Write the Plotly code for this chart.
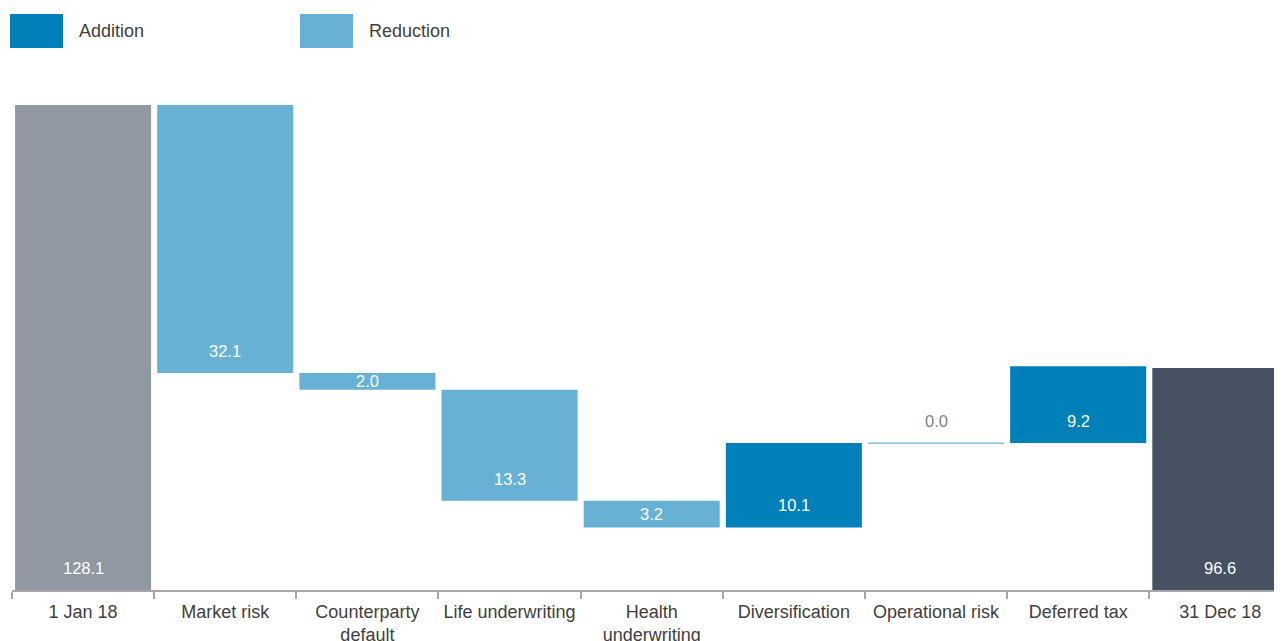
import plotly.graph_objects as go

# ---- data ----
categories = ["1 Jan 18", "Market risk", "Counterparty<br>default", "Life underwriting",
              "Health<br>underwriting", "Diversification", "Operational risk",
              "Deferred tax", "31 Dec 18"]
start_value = 128.1
changes = [-32.1, -2.0, -13.3, -3.2, 10.1, 0.0, 9.2]
end_value = 96.6
legend_labels = ["Addition", "Reduction"]

# ---- styles ----
C_ADD = "#0080B9"
C_RED = "#67B2D4"
C_START = "#9098A2"
C_END = "#465263"
TXT = "#404040"
FONT = "Liberation Sans, Arial, sans-serif"

# page body offsets the figure by ~8px; margins compensate
W, H = 1282, 641
M_L, M_R, M_T, M_B = 4, 0, 82, 59
Y_RANGE = [70, 129.9]
PX_PER_UNIT = (H - M_T - M_B) / (Y_RANGE[1] - Y_RANGE[0])

# ---- build bars ----
bases, heights, colors, labels = [], [], [], []
bases.append(0)
heights.append(start_value)
colors.append(C_START)
labels.append(start_value)
level = start_value
for ch in changes:
    new = level + ch
    bases.append(min(level, new))
    heights.append(abs(ch))
    colors.append(C_ADD if ch > 0 else C_RED)
    labels.append(abs(ch))
    level = new
bases.append(0)
heights.append(end_value)
colors.append(C_END)
labels.append(end_value)

fig = go.Figure()
fig.add_trace(go.Bar(
    x=categories, y=heights, base=bases,
    marker=dict(color=colors, line=dict(width=0)),
    showlegend=False, hoverinfo="skip",
))

annotations = []
shapes = []
for i, (b, h, lab) in enumerate(zip(bases, heights, labels)):
    bottom = max(b, Y_RANGE[0])
    hpx = (b + h - bottom) * PX_PER_UNIT
    if h == 0:
        shapes.append(dict(type="line", xref="x", yref="y",
                           x0=i - 0.478, x1=i + 0.478, y0=b, y1=b,
                           line=dict(color=C_RED, width=1.2)))
        annotations.append(dict(x=categories[i], y=b, xref="x", yref="y",
                                text=f"{lab:.1f}", showarrow=False, yshift=22,
                                font=dict(size=16.5, color="#7F7F7F", family=FONT)))
    else:
        annotations.append(dict(x=categories[i], y=bottom, xref="x", yref="y",
                                text=f"{lab:.1f}", showarrow=False,
                                yshift=min(22, hpx / 2), yanchor="middle",
                                font=dict(size=16.5, color="white", family=FONT)))

# ---- custom legend (large swatches), positions in page pixels ----
OFF = 8
plot_w = W - M_L - M_R
plot_h = H - M_T - M_B
def px_x(px):
    return (px - OFF - M_L) / plot_w
def px_y(py):
    return (H - M_B - (py - OFF)) / plot_h

legend_items = [(legend_labels[0], C_ADD, 10), (legend_labels[1], C_RED, 300)]
for name, col, x0 in legend_items:
    shapes.append(dict(type="rect", xref="paper", yref="paper",
                       x0=px_x(x0), x1=px_x(x0 + 53), y0=px_y(48), y1=px_y(14),
                       fillcolor=col, line=dict(width=0)))
    annotations.append(dict(x=px_x(x0 + 67), y=px_y(31), xref="paper", yref="paper",
                            text=name, showarrow=False, xanchor="left", yanchor="middle",
                            font=dict(size=18, color=TXT, family=FONT)))

fig.update_layout(
    width=W, height=H,
    margin=dict(l=M_L, r=M_R, t=M_T, b=M_B),
    paper_bgcolor="white", plot_bgcolor="white",
    bargap=0.043,
    font=dict(family=FONT, size=18, color=TXT),
    xaxis=dict(type="category", range=[-0.5, 8.49], tickson="boundaries",
               showline=True, linecolor="#A6A6A6", linewidth=2,
               ticks="outside", ticklen=7, tickcolor="#A6A6A6", tickwidth=2,
               ticklabelstandoff=4,
               tickfont=dict(size=18, color=TXT, family=FONT),
               showgrid=False, zeroline=False, fixedrange=True),
    yaxis=dict(range=Y_RANGE, visible=False, showgrid=False, zeroline=False),
    shapes=shapes,
    annotations=annotations,
)

fig.write_html("out.html")
